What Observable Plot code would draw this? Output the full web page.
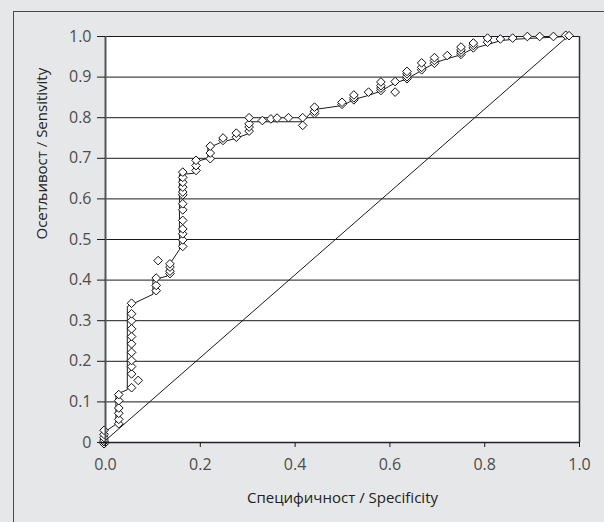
<!DOCTYPE html>
<html>
<head>
<meta charset="utf-8">
<script src="https://cdn.jsdelivr.net/npm/d3@7"></script>
<script src="https://cdn.jsdelivr.net/npm/@observablehq/plot@0.6"></script>
<style>
  html, body { margin: 0; padding: 0; background: #e6e7e8; width: 604px; height: 522px; overflow: hidden; }
  #frame { position: absolute; left: 13px; top: 11px; width: 620px; height: 560px; border-left: 1.5px solid #4a4a4a; border-top: 1.5px solid #4a4a4a; pointer-events: none; }
  #chart { position: absolute; left: 0; top: 0; }
</style>
</head>
<body>
<div id="chart"></div>
<div id="frame"></div>
<script>
// Diamonds: one x (specificity) per group, several sensitivity values per group
const dotSpec = [-0.003, 0.028, 0.055, 0.069, 0.107, 0.111, 0.136, 0.163, 0.191, 0.221, 0.248, 0.276, 0.303,
  0.331, 0.349, 0.362, 0.386, 0.416, 0.441, 0.499, 0.524, 0.555, 0.581, 0.611, 0.636, 0.667, 0.694,
  0.721, 0.750, 0.776, 0.806, 0.833, 0.859, 0.890, 0.916, 0.945, 0.971, 0.978];
const dotSens = [
  [-0.003, 0.002, 0.006, 0.012, 0.020, 0.030],
  [0.046, 0.057, 0.072, 0.085, 0.103, 0.118],
  [0.135, 0.169, 0.187, 0.202, 0.222, 0.243, 0.261, 0.280, 0.300, 0.317, 0.343],
  [0.153],
  [0.374, 0.387, 0.405],
  [0.448],
  [0.416, 0.422, 0.432, 0.440],
  [0.483, 0.499, 0.514, 0.526, 0.547, 0.573, 0.588, 0.610, 0.617, 0.629, 0.641, 0.653, 0.666],
  [0.670, 0.682, 0.695],
  [0.699, 0.713, 0.730],
  [0.744, 0.750],
  [0.752, 0.762],
  [0.767, 0.777, 0.785, 0.800],
  [0.793],
  [0.797],
  [0.799],
  [0.800],
  [0.781, 0.800],
  [0.810, 0.816, 0.826],
  [0.833, 0.838],
  [0.844, 0.849, 0.856],
  [0.863],
  [0.867, 0.873, 0.879, 0.888],
  [0.863, 0.889],
  [0.896, 0.901, 0.908, 0.914],
  [0.918, 0.924, 0.935],
  [0.934, 0.941, 0.948],
  [0.953],
  [0.956, 0.961, 0.967, 0.974],
  [0.972, 0.978, 0.984],
  [0.986, 0.996],
  [0.994],
  [0.996],
  [1.000],
  [1.000],
  [1.000],
  [1.003],
  [1.002]
];

// ROC line vertices
const lineSpec = [-0.003, -0.003, 0.022, 0.022, 0.046, 0.046, 0.100, 0.100, 0.130, 0.130, 0.156, 0.156, 0.186, 0.186,
  0.216, 0.216, 0.245, 0.272, 0.300, 0.300, 0.330, 0.415, 0.440, 0.500, 0.525, 0.555, 0.580, 0.610, 0.635,
  0.665, 0.695, 0.720, 0.750, 0.775, 0.805, 0.835, 0.860, 0.890, 0.975];
const lineSens = [0.000, 0.025, 0.045, 0.118, 0.130, 0.335, 0.365, 0.400, 0.410, 0.430, 0.475, 0.660, 0.663, 0.690,
  0.700, 0.725, 0.740, 0.748, 0.760, 0.790, 0.790, 0.790, 0.820, 0.830, 0.845, 0.855, 0.865, 0.885, 0.895,
  0.915, 0.935, 0.945, 0.955, 0.970, 0.980, 0.990, 0.993, 0.995, 1.000];

// Reference diagonal
const diagSpec = [-0.005, 0.975];
const diagSens = [0, 1];

const xTicks = [0, 0.2, 0.4, 0.6, 0.8, 1.0];
const yTicks = [0, 0.1, 0.2, 0.3, 0.4, 0.5, 0.6, 0.7, 0.8, 0.9, 1.0];
const xTitle = "Специфичност / Specificity";
const yTitle = "Осетљивост / Sensitivity";

const dots = dotSpec.flatMap((x, i) => dotSens[i].map(y => ({x, y})));
const line = lineSpec.map((x, i) => ({x, y: lineSens[i]}));
const diag = diagSpec.map((x, i) => ({x, y: diagSens[i]}));

const ink = "#4d4d4d";
const chart = Plot.plot({
  width: 604,
  height: 522,
  marginLeft: 105,
  marginRight: 25,
  marginTop: 36,
  marginBottom: 80,
  style: {fontFamily: "'Open Sans', 'Noto Sans', sans-serif", fontSize: "16px", color: ink, background: "transparent", overflow: "visible"},
  x: {type: "linear", domain: [0, 1]},
  y: {type: "linear", domain: [0, 1]},
  marks: [
    Plot.frame({fill: "white", stroke: null}),
    Plot.ruleY(yTicks, {stroke: "#1a1a1a", strokeWidth: 1}),
    Plot.line(diag, {x: "x", y: "y", stroke: "#1a1a1a", strokeWidth: 1}),
    Plot.line(line, {x: "x", y: "y", stroke: "#1a1a1a", strokeWidth: 1}),
    Plot.dot(dots, {x: "x", y: "y", symbol: "diamond2", r: 3.9, fill: "white", stroke: "#111", strokeWidth: 1}),
    Plot.ruleX([0], {stroke: "#555", strokeWidth: 2}),
    Plot.ruleX([1], {stroke: "#333", strokeWidth: 1.5}),
    Plot.ruleY([0], {stroke: "#222", strokeWidth: 1.5}),
    Plot.axisY({ticks: yTicks, tickSize: 8, tickPadding: 6, tickFormat: d => d === 0 ? "0" : d.toFixed(1), label: null, stroke: "#1a1a1a", fill: ink, fontSize: 16}),
    Plot.axisX({ticks: xTicks, tickSize: 5, tickPadding: 11, tickFormat: d => d.toFixed(1), label: null, stroke: "#1a1a1a", fill: ink, fontSize: 16}),
    Plot.text([yTitle], {frameAnchor: "left", dx: -63, rotate: -90, fill: "#222", fontSize: 15}),
    Plot.text([xTitle], {frameAnchor: "bottom", dy: 60, fill: "#222", fontSize: 15})
  ]
});
document.getElementById("chart").appendChild(chart);
</script>
</body>
</html>
